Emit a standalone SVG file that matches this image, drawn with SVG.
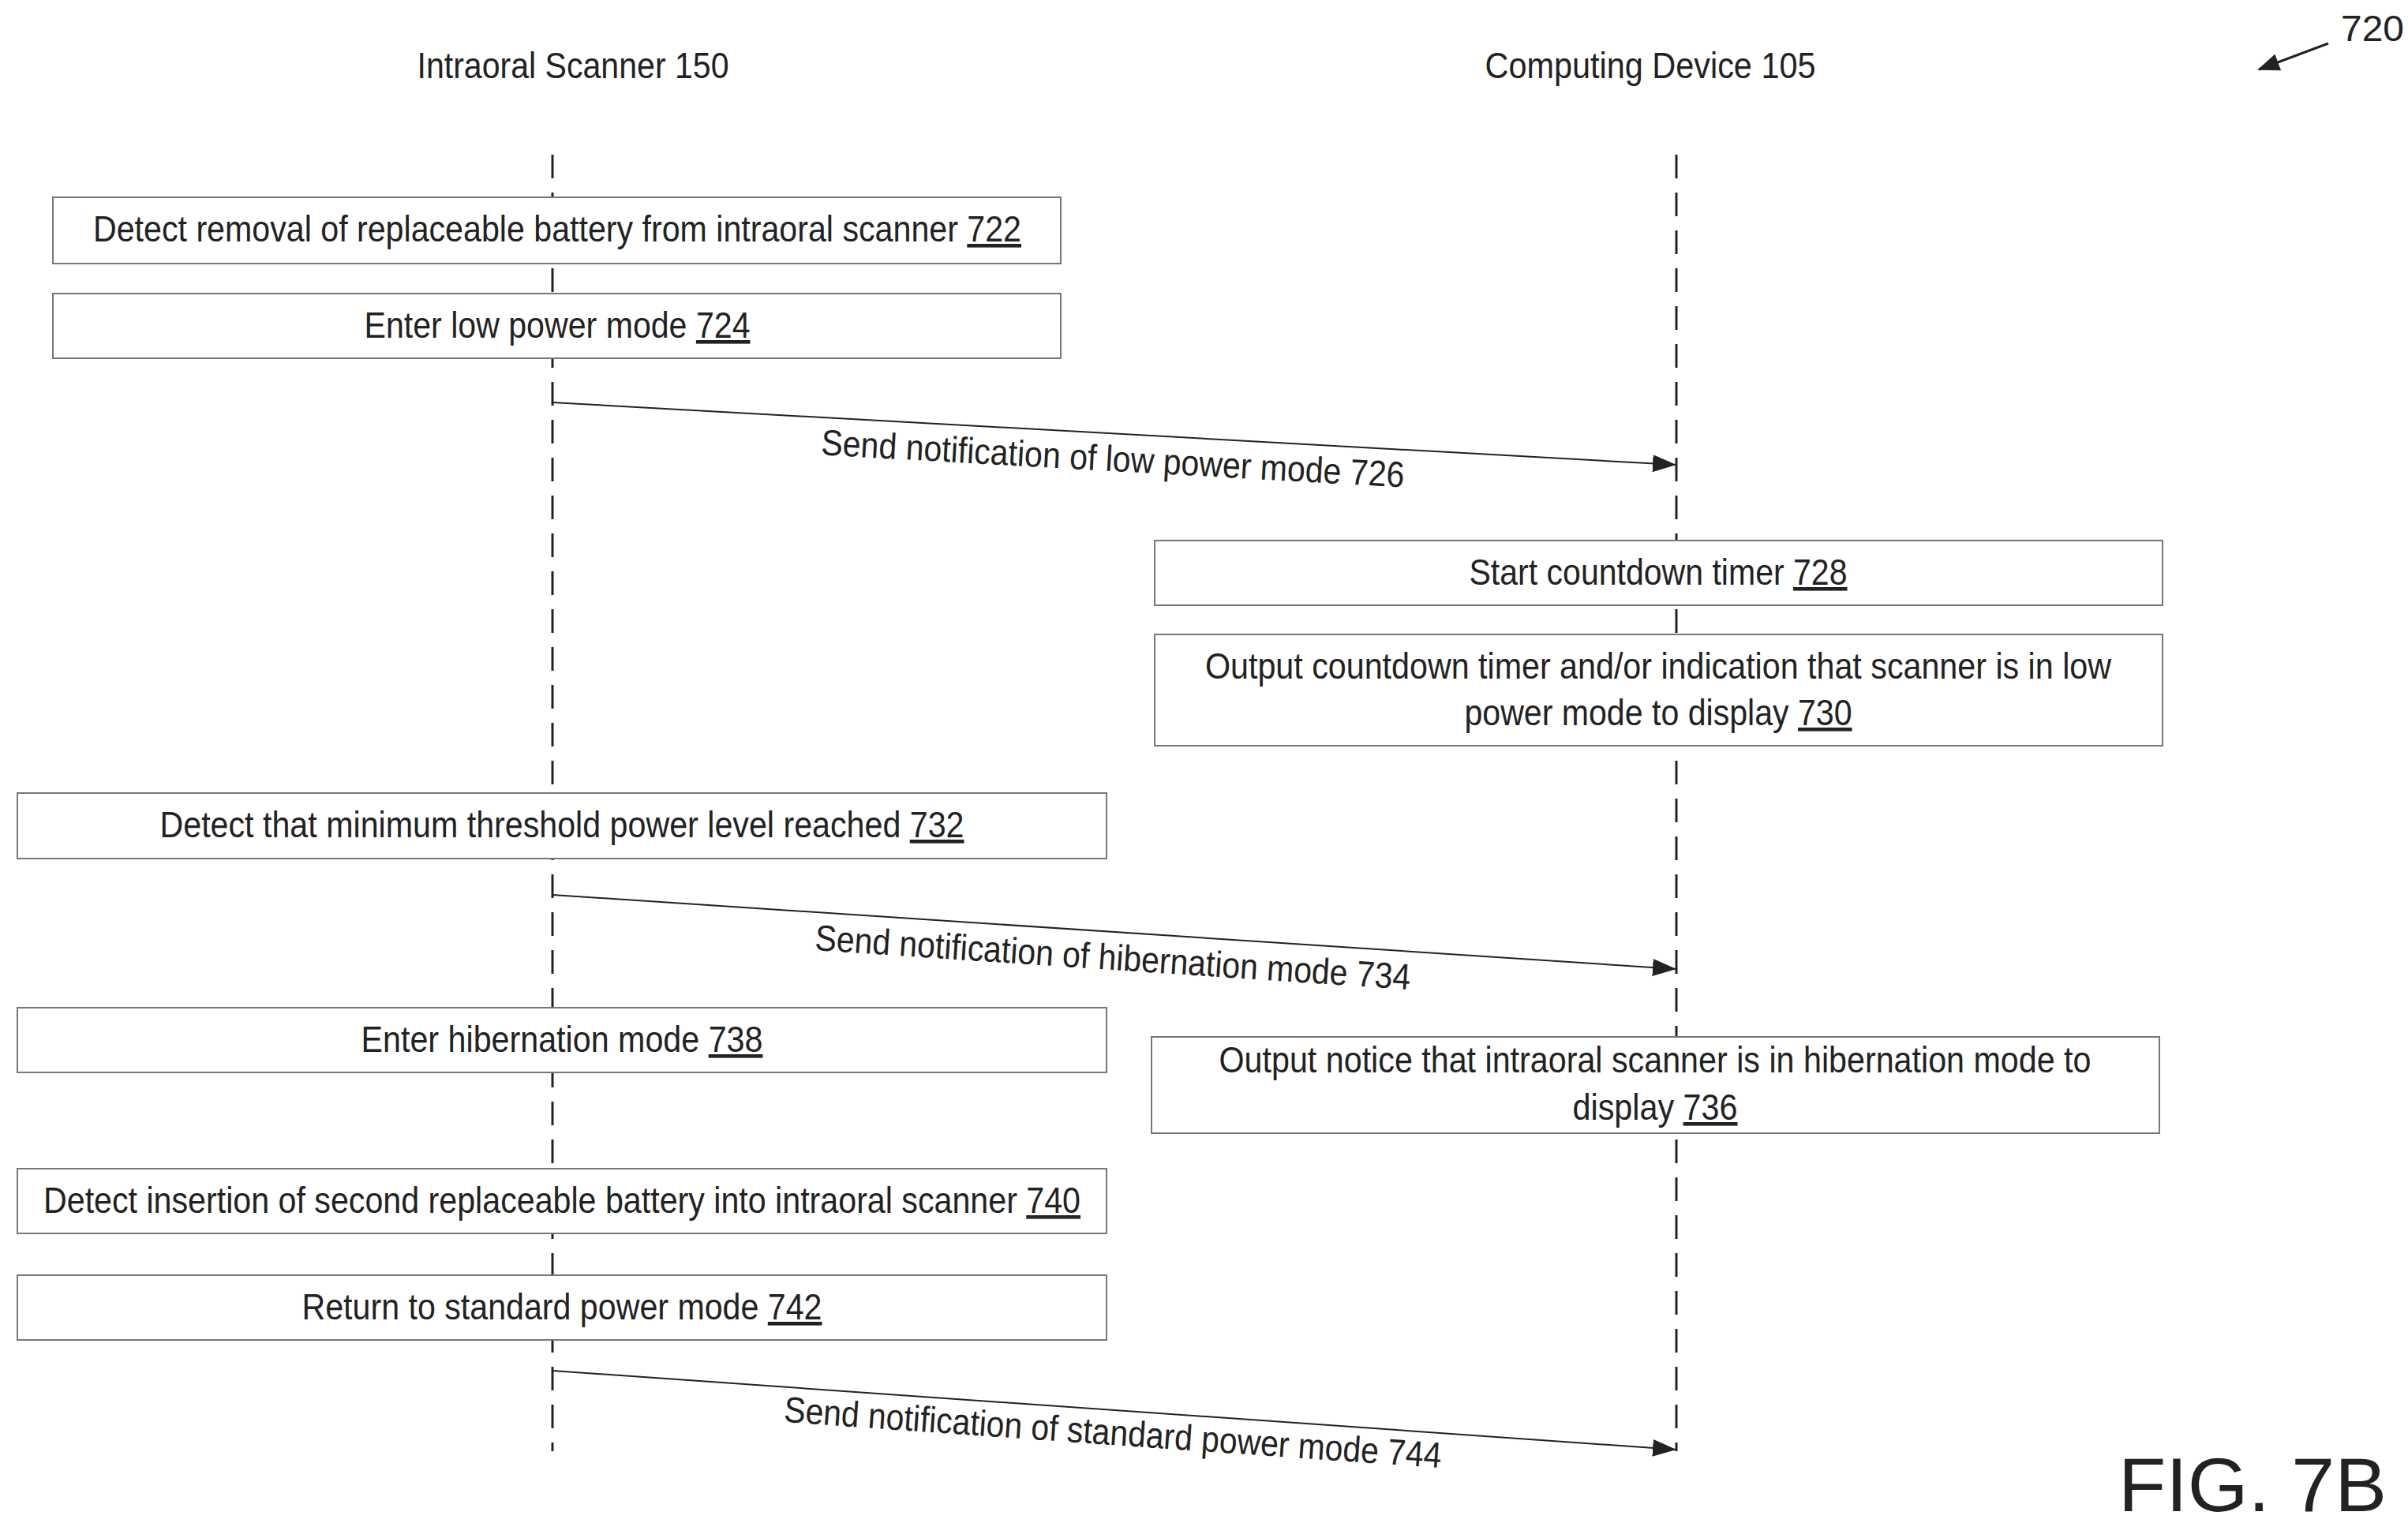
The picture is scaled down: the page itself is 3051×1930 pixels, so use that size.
<svg xmlns="http://www.w3.org/2000/svg" width="3051" height="1930" viewBox="0 0 3051 1930">
<style>
text{font-family:"Liberation Sans",Arial,sans-serif;font-size:46px;fill:#222;text-anchor:middle}
.b{fill:#fff;stroke:#777;stroke-width:2}
.ll{stroke:#222;stroke-width:3;stroke-dasharray:30,18}
.a{stroke:#222;stroke-width:2;fill:none;marker-end:url(#ah)}
.u{text-decoration:underline}
</style>
<defs><marker id="ah" markerWidth="30" markerHeight="22" refX="30" refY="11" orient="auto" markerUnits="userSpaceOnUse" viewBox="0 0 30 22"><path d="M0,0L30,11L0,22z" fill="#222"/></marker>
<marker id="ah2" markerWidth="28" markerHeight="22" refX="26" refY="11" orient="auto" markerUnits="userSpaceOnUse" viewBox="0 0 28 22"><path d="M0,0L28,11L0,22z" fill="#222"/></marker></defs>
<g id="headers">
<text x="726" y="99" textLength="395" lengthAdjust="spacingAndGlyphs">Intraoral Scanner 150</text>
<text x="2091" y="99" textLength="419" lengthAdjust="spacingAndGlyphs">Computing Device 105</text>
<text x="3006" y="52" textLength="80" lengthAdjust="spacingAndGlyphs">720</text>
<line x1="2950" y1="55" x2="2862" y2="88" stroke="#222" stroke-width="3" marker-end="url(#ah2)"/>
<text x="2854" y="1915" style="font-size:96px" textLength="340" lengthAdjust="spacingAndGlyphs">FIG. 7B</text>
</g>
<g id="lifelines">
<line class="ll" x1="700" y1="196" x2="700" y2="1839"/>
<line class="ll" x1="2124" y1="196" x2="2124" y2="1839"/>
</g>
<g id="n722"><rect class="b" x="67" y="250" width="1277" height="84"/><text x="706" y="306" textLength="1176" lengthAdjust="spacingAndGlyphs">Detect removal of replaceable battery from intraoral scanner <tspan class="u">722</tspan></text></g>
<g id="n724"><rect class="b" x="67" y="372" width="1277" height="82"/><text x="706" y="428" textLength="489" lengthAdjust="spacingAndGlyphs">Enter low power mode <tspan class="u">724</tspan></text></g>
<g id="n728"><rect class="b" x="1463" y="685" width="1277" height="82"/><text x="2101" y="741" textLength="479" lengthAdjust="spacingAndGlyphs">Start countdown timer <tspan class="u">728</tspan></text></g>
<g id="n730"><rect class="b" x="1463" y="804" width="1277" height="141"/><text x="2101" y="860" textLength="1148" lengthAdjust="spacingAndGlyphs">Output countdown timer and/or indication that scanner is in low</text><text x="2101" y="919" textLength="491" lengthAdjust="spacingAndGlyphs">power mode to display <tspan class="u">730</tspan></text></g>
<g id="n732"><rect class="b" x="22" y="1005" width="1380" height="83"/><text x="712" y="1061" textLength="1019" lengthAdjust="spacingAndGlyphs">Detect that minimum threshold power level reached <tspan class="u">732</tspan></text></g>
<g id="n738"><rect class="b" x="22" y="1277" width="1380" height="82"/><text x="712" y="1333" textLength="509" lengthAdjust="spacingAndGlyphs">Enter hibernation mode <tspan class="u">738</tspan></text></g>
<g id="n736"><rect class="b" x="1459" y="1314" width="1277" height="122"/><text x="2097" y="1359" textLength="1105" lengthAdjust="spacingAndGlyphs">Output notice that intraoral scanner is in hibernation mode to</text><text x="2097" y="1419" textLength="209" lengthAdjust="spacingAndGlyphs">display <tspan class="u">736</tspan></text></g>
<g id="n740"><rect class="b" x="22" y="1481" width="1380" height="82"/><text x="712" y="1537" textLength="1314" lengthAdjust="spacingAndGlyphs">Detect insertion of second replaceable battery into intraoral scanner <tspan class="u">740</tspan></text></g>
<g id="n742"><rect class="b" x="22" y="1616" width="1380" height="82"/><text x="712" y="1672" textLength="659" lengthAdjust="spacingAndGlyphs">Return to standard power mode <tspan class="u">742</tspan></text></g>
<g id="connectors">
<line class="a" x1="700" y1="510" x2="2124" y2="589"/>
<text transform="rotate(3.2 1410 581)" x="1410" y="597" textLength="740" lengthAdjust="spacingAndGlyphs">Send notification of low power mode 726</text>
<line class="a" x1="700" y1="1134" x2="2124" y2="1228"/>
<text transform="rotate(3.8 1410 1213)" x="1410" y="1229" textLength="756" lengthAdjust="spacingAndGlyphs">Send notification of hibernation mode 734</text>
<line class="a" x1="700" y1="1737" x2="2124" y2="1837"/>
<text transform="rotate(4 1410 1815)" x="1410" y="1831" textLength="835" lengthAdjust="spacingAndGlyphs">Send notification of standard power mode 744</text>
</g>
</svg>
